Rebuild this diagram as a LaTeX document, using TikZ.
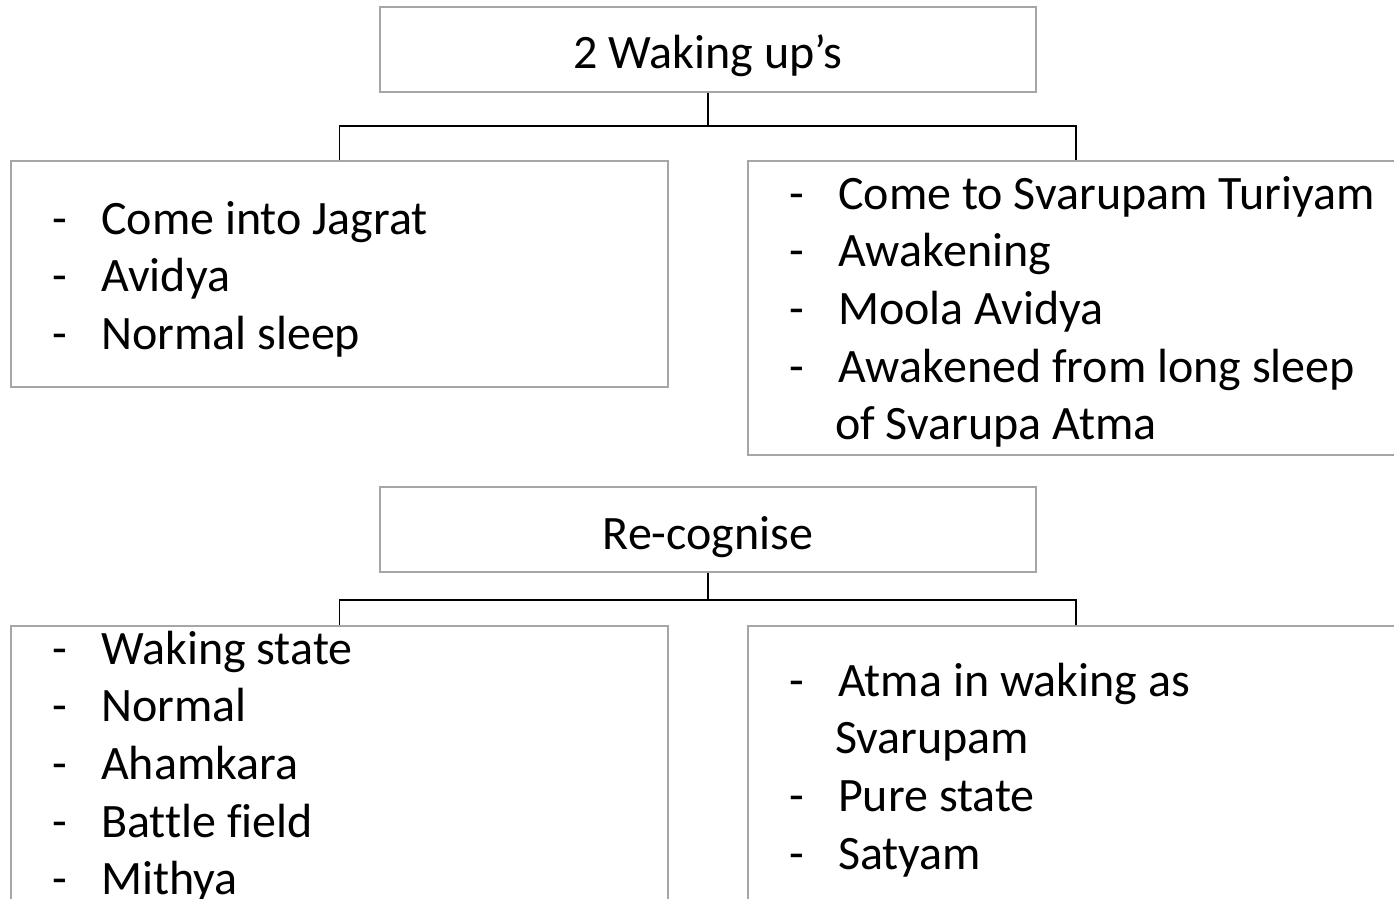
\documentclass[tikz,border=0pt]{standalone}
\usepackage{fontspec}
\setmainfont[Ligatures=NoCommon]{Carlito}
\usetikzlibrary{fit}
\definecolor{boxgray}{HTML}{A6A6A6}
\tikzset{
  box/.style={draw=boxgray, line width=1.3pt, rectangle, inner sep=0pt, fill=white},
  conn/.style={draw=black, line width=1.6pt},
  head/.style={anchor=base, inner sep=0pt, font=\fontsize{48}{57.7}\selectfont},
  lst/.style={anchor=base west, inner sep=0pt, font=\fontsize{48}{57.7}\selectfont}
}
\newcommand{\itemlist}[1]{\begin{tabular}[t]{@{}p{49pt}@{}l@{}}#1\end{tabular}}
\begin{document}
\begin{tikzpicture}[x=1pt,y=-1pt]
\useasboundingbox (0,0) rectangle (1394,899);
\clip (0,0) rectangle (1394,899);
\fill[white] (0,0) rectangle (1394,899);
% junction points
\coordinate (j1) at (708,126);
\coordinate (j2) at (708,600);
% boxes
\node[box, fit={(380,7)(1036,92)}] (top1) {};
\node[box, fit={(11,161)(668,387)}] (l1) {};
\node[box, fit={(748,161)(1404,455)}] (r1) {};
\node[box, fit={(380,487)(1036,572)}] (top2) {};
\node[box, fit={(11,626)(668,960)}] (l2) {};
\node[box, fit={(748,626)(1404,960)}] (r2) {};
% connectors
\draw[conn] (top1.south) -- (j1);
\draw[conn] (l1.north) |- (j1) -| (r1.north);
\draw[conn] (top2.south) -- (j2);
\draw[conn] (l2.north) |- (j2) -| (r2.north);
% texts
\node[head] (t1) at (708,69) {2 Waking up’s};
\node[head] (t2) at (708,549) {Re-cognise};
\node[lst] (tl1) at (52,234) {\itemlist{-&Come into Jagrat\\-&Avidya\\-&Normal sleep}};
\node[lst] (tr1) at (789,209) {\itemlist{-&Come to Svarupam Turiyam\\-&Awakening\\-&Moola Avidya\\-&Awakened from long sleep\\&\hspace{-3pt}of Svarupa Atma}};
\node[lst] (tl2) at (52,664) {\itemlist{-&Waking state\\-&Normal\\-&Ahamkara\\-&Battle field\\-&Mithya}};
\node[lst] (tr2) at (789,696) {\itemlist{-&Atma in waking as\\&\hspace{-3pt}Svarupam\\-&Pure state\\-&Satyam}};
\end{tikzpicture}
\end{document}
